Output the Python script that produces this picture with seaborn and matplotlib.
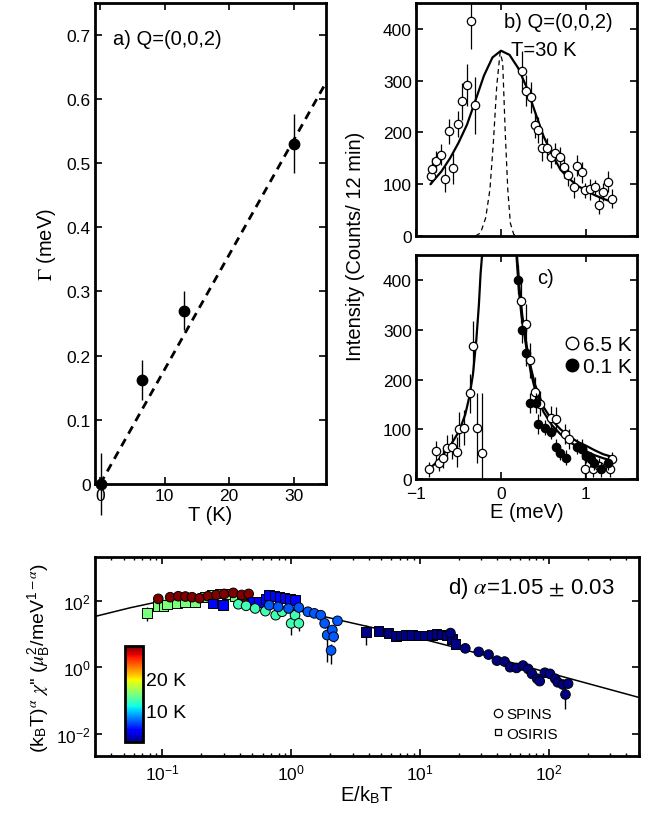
import numpy as np
import pandas as pd
import matplotlib
matplotlib.use("Agg")
import matplotlib.pyplot as plt
import matplotlib.colors as mcolors
import matplotlib.ticker as mticker
from matplotlib.lines import Line2D
import seaborn as sns

# ---------------- panel a: linewidth vs temperature ----------------
T_a = [0.1, 6.5, 13, 30]
gamma_a = [0.0, 0.162, 0.27, 0.53]
gamma_err = [0.048, 0.031, 0.03, 0.046]
fit_T = [0, 35]
fit_gamma = [0.0, 0.625]

# ---------------- panel b: Q=(0,0,2), T=30 K ----------------
E_b = [-0.827, -0.806, -0.76, -0.70, -0.655, -0.61, -0.56, -0.51, -0.46, -0.40, -0.35, -0.30,
       0.243, 0.29, 0.35, 0.40, 0.44, 0.48, 0.54, 0.59, 0.64, 0.70, 0.74, 0.79, 0.86, 0.89,
       0.95, 0.99, 1.05, 1.11, 1.15, 1.20, 1.26, 1.31]
I_b = [115, 130, 144, 157, 110, 202, 131, 217, 260, 292, 416, 253,
       318, 281, 268, 215, 205, 170, 170, 152, 160, 152, 133, 117, 94, 136,
       123, 88, 90, 94, 60, 85, 105, 72]
I_b_err = [15, 20, 20, 20, 25, 25, 30, 25, 35, 40, 55, 55,
           40, 30, 30, 25, 25, 25, 20, 20, 20, 20, 20, 20, 20, 20,
           20, 15, 20, 15, 18, 18, 20, 18]
E_b_fit = [-0.83, -0.7, -0.6, -0.5, -0.4, -0.3, -0.2, -0.1, 0.0, 0.1, 0.2, 0.3, 0.4, 0.5,
           0.6, 0.7, 0.8, 0.9, 1.0, 1.1, 1.2, 1.32]
I_b_fit = [100, 125, 150, 180, 215, 262, 310, 345, 358, 350, 325, 288, 240, 193,
           158, 128, 111, 97, 88, 79, 72, 65]
E_b_res = [-0.3, -0.24, -0.18, -0.13, -0.09, -0.05, -0.01, 0.02, 0.05, 0.08, 0.11, 0.15, 0.2]
I_b_res = [0, 6, 35, 90, 180, 290, 355, 335, 200, 90, 25, 3, 0]

# ---------------- panel c: 6.5 K and 0.1 K ----------------
E_c_hot = [-0.847, -0.77, -0.73, -0.68, -0.63, -0.58, -0.52, -0.49, -0.43, -0.37, -0.33, -0.28, -0.22,
           0.23, 0.30, 0.34, 0.40, 0.46, 0.59, 0.65, 0.75, 0.80, 0.95, 0.99, 1.08, 1.15, 1.28, 1.31]
I_c_hot = [20, 57, 32, 43, 63, 65, 55, 100, 103, 172, 268, 103, 53,
           358, 311, 239, 175, 151, 122, 120, 91, 81, 61, 20, 20, 27, 20, 40]
I_c_hot_err = [15, 20, 15, 20, 25, 25, 30, 35, 35, 40, 50, 70, 120,
               45, 40, 35, 30, 25, 25, 25, 20, 20, 20, 20, 15, 15, 15, 15]
E_c_cold = [0.20, 0.25, 0.30, 0.34, 0.41, 0.44, 0.52, 0.59, 0.65, 0.70, 0.76, 0.89, 0.95,
            1.00, 1.06, 1.10, 1.18, 1.26]
I_c_cold = [401, 299, 253, 152, 152, 110, 103, 95, 65, 53, 43, 65, 60, 47, 40, 33, 20, 33]
I_c_cold_err = [30, 25, 25, 20, 20, 20, 15, 15, 15, 15, 15, 15, 15, 15, 15, 15, 15, 15]
E_c_fit_left = [-0.85, -0.78, -0.69, -0.6, -0.49, -0.42, -0.37, -0.33, -0.29, -0.26, -0.24, -0.22]
I_c_fit_left = [20, 30, 47, 66, 97, 130, 167, 210, 280, 350, 413, 455]
E_c_fit_hot = [0.185, 0.22, 0.25, 0.3, 0.35, 0.4, 0.5, 0.6, 0.7, 0.8, 0.9, 1.0, 1.1, 1.2, 1.32]
I_c_fit_hot = [455, 380, 330, 270, 225, 190, 145, 118, 100, 86, 75, 67, 58, 50, 44]
E_c_fit_cold = [0.18, 0.21, 0.24, 0.3, 0.35, 0.4, 0.5, 0.6, 0.7, 0.8, 0.9, 1.0, 1.1, 1.2, 1.32]
I_c_fit_cold = [455, 380, 330, 262, 215, 180, 135, 108, 90, 75, 65, 56, 48, 42, 36]

# ---------------- panel d: scaling plot ----------------
d_groups = [
    # instrument, temperature (K), x = E/kBT, y, relative error
    ("OSIRIS", 15.0,
     [0.076, 0.093, 0.102, 0.109, 0.130, 0.150, 0.180, 0.215, 0.242, 0.281, 0.316, 0.366, 0.413],
     [44, 69, 69, 78, 83, 89, 93, 132, 148, 166, 158, 138, 117],
     [0.45, 0.1, 0.1, 0.08, 0.08, 0.08, 0.08, 0.08, 0.08, 0.08, 0.08, 0.08, 0.08]),
    ("SPINS", 30.0,
     [0.093, 0.115, 0.133, 0.151, 0.170, 0.195, 0.226, 0.263, 0.302, 0.355, 0.413, 0.468, 0.442],
     [115, 129, 138, 135, 129, 120, 138, 151, 162, 174, 151, 162, 81],
     [0.08] * 13),
    ("OSIRIS", 4.0,
     [0.245, 0.295, 0.501, 0.562, 0.631, 0.676, 0.741, 0.813, 0.891, 0.977, 1.072],
     [83, 74, 93, 93, 112, 148, 141, 132, 123, 115, 105],
     [0.08] * 11),
    ("SPINS", 13.0,
     [0.389, 0.447, 0.525, 0.631, 0.759, 0.851, 1.0, 1.072, 1.148],
     [79, 71, 59, 49, 37, 47, 21, 37, 21],
     [0.1, 0.1, 0.1, 0.1, 0.15, 0.15, 0.55, 0.2, 0.4]),
    ("SPINS", 6.5,
     [0.676, 0.794, 0.955, 1.148, 1.349, 1.514, 1.698, 1.820, 1.905, 2.089, 2.042, 2.291, 2.138],
     [74, 66, 59, 63, 47, 42, 37, 21, 9.3, 13.2, 3.2, 25, 8.3],
     [0.1, 0.1, 0.1, 0.1, 0.1, 0.12, 0.12, 0.3, 0.85, 0.3, 0.6, 0.15, 0.3]),
    ("OSIRIS", 0.3,
     [3.81, 4.78, 5.70, 6.50, 7.08, 7.74, 8.71, 9.77, 10.96, 12.45, 13.49, 14.86, 16.22, 17.78, 18.88],
     [11.5, 12.3, 10.7, 8.7, 9.1, 9.5, 9.5, 9.1, 9.1, 9.5, 10.0, 9.8, 9.1, 7.2, 5.1],
     [0.6, 0.2] + [0.08] * 13),
    ("SPINS", 0.1,
     [17.26, 22.5, 28.6, 34.1, 39.6, 45.4, 50.1, 56.2, 63.1, 69.2, 74.1, 81.3, 85.1, 93.3,
      102.3, 112.2, 117.5, 128.8, 141.3, 134.9],
     [10.7, 3.7, 2.9, 2.4, 1.58, 1.48, 1.0, 0.95, 1.12, 0.89, 0.63, 0.45, 0.38, 0.68,
      0.63, 0.45, 0.35, 0.30, 0.32, 0.15],
     [0.08] * 19 + [0.63]),
]
x_d_fit = [0.030, 0.056, 0.1, 0.178, 0.316, 0.562, 1.0, 1.78, 3.16, 5.62, 10.0, 31.6, 100, 316, 500]
y_d_fit = [33.9, 61.7, 100, 126, 126, 95.5, 57.5, 33.9, 20.4, 12.3, 7.41, 2.34, 0.676, 0.200, 0.123]

rows = []
for inst, temp, xs, ys, errs in d_groups:
    for xv, yv, ev in zip(xs, ys, errs):
        rows.append(dict(inst=inst, T=temp, x=xv, y=yv, err=ev * yv))
df_d = pd.DataFrame(rows)

# ---------------- style ----------------
sns.set_theme(style="ticks")
plt.rcParams["font.family"] = ["Liberation Sans", "DejaVu Sans"]
plt.rcParams["mathtext.fontset"] = "stix"
plt.rcParams["axes.linewidth"] = 2.0
plt.rcParams["xtick.direction"] = "in"
plt.rcParams["ytick.direction"] = "in"
plt.rcParams["xtick.top"] = True
plt.rcParams["ytick.right"] = True
for key in ("text.color", "axes.labelcolor", "xtick.color", "ytick.color", "axes.edgecolor"):
    plt.rcParams[key] = "black"

TICK = 12.5
LAB = 14.5

fig = plt.figure(figsize=(6.52, 8.2), dpi=100)
ax_a = fig.add_axes([0.1457, 0.4085, 0.354, 0.587])
ax_b = fig.add_axes([0.638, 0.711, 0.339, 0.284])
ax_c = fig.add_axes([0.638, 0.4146, 0.339, 0.273])
ax_d = fig.add_axes([0.1457, 0.0768, 0.834, 0.2427])

for ax in (ax_a, ax_b, ax_c, ax_d):
    ax.tick_params(which="major", length=5, width=1.2, labelsize=TICK, pad=3)
    ax.tick_params(which="minor", length=2.5, width=1.0)

# ---- a ----
sns.lineplot(x=fit_T, y=fit_gamma, ax=ax_a, color="black", lw=2.0)
ax_a.lines[-1].set_linestyle((0, (3, 2.2)))
ax_a.errorbar(T_a, gamma_a, yerr=gamma_err, fmt="o", color="black", ms=7.5,
              elinewidth=1.0, capsize=0, clip_on=False, zorder=5)
ax_a.set_xlim(-0.8, 35)
ax_a.set_ylim(0, 0.75)
ax_a.set_xticks([0, 10, 20, 30])
ax_a.set_yticks([0, 0.1, 0.2, 0.3, 0.4, 0.5, 0.6, 0.7])
ax_a.set_yticklabels(["0", "0.1", "0.2", "0.3", "0.4", "0.5", "0.6", "0.7"])
ax_a.set_xlabel("T (K)", fontsize=LAB, labelpad=1)
ax_a.set_ylabel(r"$\Gamma$ (meV)", fontsize=LAB, labelpad=6)
ax_a.text(0.08, 0.925, "a) Q=(0,0,2)", transform=ax_a.transAxes, fontsize=LAB,
          ha="left", va="center")

# ---- b ----
sns.lineplot(x=E_b_fit, y=I_b_fit, ax=ax_b, color="black", lw=1.6, sort=False, estimator=None)
sns.lineplot(x=E_b_res, y=I_b_res, ax=ax_b, color="black", lw=0.9, sort=False, estimator=None)
ax_b.lines[-1].set_linestyle((0, (4, 3)))
ax_b.errorbar(E_b, I_b, yerr=I_b_err, fmt="o", mfc="white", mec="black", ecolor="black",
              ms=6, mew=0.9, elinewidth=0.9, capsize=0, zorder=4)
ax_b.set_xlim(-1, 1.6)
ax_b.set_ylim(0, 450)
ax_b.set_xticks([-1, 0, 1])
ax_b.set_xticklabels([])
ax_b.set_yticks([0, 100, 200, 300, 400])
ax_b.text(0.40, 0.92, "b) Q=(0,0,2)", transform=ax_b.transAxes, fontsize=LAB,
          ha="left", va="center")
ax_b.text(0.43, 0.80, "T=30 K", transform=ax_b.transAxes, fontsize=LAB,
          ha="left", va="center")

# ---- c ----
for ex, iy in ((E_c_fit_left, I_c_fit_left), (E_c_fit_hot, I_c_fit_hot), (E_c_fit_cold, I_c_fit_cold)):
    sns.lineplot(x=ex, y=iy, ax=ax_c, color="black", lw=1.6, sort=False, estimator=None)
ax_c.errorbar(E_c_hot, I_c_hot, yerr=I_c_hot_err, fmt="o", mfc="white", mec="black",
              ecolor="black", ms=6, mew=0.9, elinewidth=0.9, capsize=0, zorder=4)
ax_c.errorbar(E_c_cold, I_c_cold, yerr=I_c_cold_err, fmt="o", mfc="black", mec="black",
              ecolor="black", ms=6, mew=0.9, elinewidth=0.9, capsize=0, zorder=5)
ax_c.set_xlim(-1, 1.6)
ax_c.set_ylim(0, 450)
ax_c.set_xticks([-1, 0, 1])
ax_c.set_xticklabels(["\u22121", "0", "1"])
ax_c.set_yticks([0, 100, 200, 300, 400])
ax_c.tick_params(axis="x", which="major", pad=5)
ax_c.set_xlabel("E (meV)", fontsize=LAB, labelpad=1)
ax_c.text(0.55, 0.90, "c)", transform=ax_c.transAxes, fontsize=LAB, ha="left", va="center")
ax_c.legend(
    [Line2D([], [], marker="o", ls="none", mfc="white", mec="black", ms=9, mew=1),
     Line2D([], [], marker="o", ls="none", mfc="black", mec="black", ms=9, mew=1)],
    ["6.5 K", "0.1 K"], loc="upper left", bbox_to_anchor=(0.62, 0.70), frameon=False,
    fontsize=15, handlelength=0.6, handletextpad=0.25, labelspacing=0.15, borderpad=0.1)

fig.text(0.545, 0.70, "Intensity (Counts/ 12 min)", rotation=90, fontsize=LAB,
         ha="center", va="center")

# ---- d ----
cmap = plt.get_cmap("jet")
norm = mcolors.Normalize(vmin=0.1, vmax=30)
sns.lineplot(x=x_d_fit, y=y_d_fit, ax=ax_d, color="black", lw=1.1, sort=False, estimator=None, zorder=1)
ax_d.errorbar(df_d["x"], df_d["y"], yerr=df_d["err"], fmt="none", ecolor="black",
              elinewidth=1.0, capsize=0, zorder=2)
sns.scatterplot(data=df_d, x="x", y="y", hue="T", palette=cmap, hue_norm=norm,
                style="inst", markers={"SPINS": "o", "OSIRIS": "s"}, s=48,
                edgecolor="black", linewidth=0.7, legend=False, ax=ax_d, zorder=3)
ax_d.set_xscale("log")
ax_d.set_yscale("log")
ax_d.set_xlim(0.03, 500)
ax_d.set_ylim(0.0021, 2100)
ax_d.set_yticks([1e-2, 1e0, 1e2])
ax_d.yaxis.set_minor_locator(mticker.NullLocator())
ax_d.set_xticks([1e-1, 1e0, 1e1, 1e2])
ax_d.xaxis.set_minor_locator(mticker.LogLocator(base=10, subs=np.arange(2, 10), numticks=20))
ax_d.xaxis.set_minor_formatter(mticker.NullFormatter())
ax_d.tick_params(axis="x", which="major", pad=5)
ax_d.set_xlabel(r"E/k$_\mathregular{B}$T", fontsize=LAB, labelpad=0)
ax_d.set_ylabel(r"(k$_\mathregular{B}$T)$^\alpha$ $\chi$'' ($\mu_\mathregular{B}^\mathregular{2}$"
                r"/meV$^{\mathregular{1}-\alpha}$)", fontsize=LAB - 0.5, labelpad=2)
ax_d.text(0.955, 0.845, r"d) $\alpha$=1.05 $\pm$ 0.03", transform=ax_d.transAxes, fontsize=16,
          ha="right", va="center")
ax_d.legend(
    [Line2D([], [], marker="o", ls="none", mfc="white", mec="black", ms=6, mew=0.9),
     Line2D([], [], marker="s", ls="none", mfc="white", mec="black", ms=5, mew=0.9)],
    ["SPINS", "OSIRIS"], loc="upper left", bbox_to_anchor=(0.715, 0.29), frameon=False,
    fontsize=11, handlelength=0.6, handletextpad=0.3, labelspacing=0.35, borderpad=0.1)

# colorbar inset
cax = fig.add_axes([0.192, 0.0939, 0.0276, 0.117])
cb = fig.colorbar(plt.cm.ScalarMappable(norm=norm, cmap=cmap), cax=cax)
cb.set_ticks([10, 20])
cb.set_ticklabels(["10 K", "20 K"])
cb.outline.set_linewidth(2)
cax.tick_params(length=0, labelsize=14, pad=2)

fig.savefig("out.png", dpi=100)
